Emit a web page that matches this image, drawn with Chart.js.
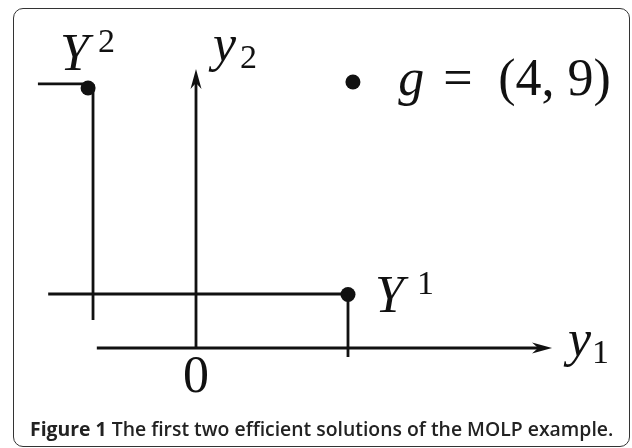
<!DOCTYPE html>
<html>
<head>
<meta charset="utf-8">
<script src="https://cdn.jsdelivr.net/npm/chart.js@4/dist/chart.umd.min.js"></script>
<style>
  body { margin: 0; background: #fff; }
  #wrap { position: relative; width: 632px; height: 448px; overflow: hidden; }
  #box { position: absolute; left: 0; top: 0; width: 632px; height: 448px; }
  #frame { position: absolute; left: 13px; top: 8px; width: 617px; height: 439px; box-sizing: border-box;
           border: 1.5px solid #333; border-radius: 10px; }
  #cap { position: absolute; left: 30px; top: 419px; font-family: "Open Sans"; font-size: 19.4px; line-height: 19px;
         font-weight: 600; color: #222; white-space: nowrap; }
  #cap b { font-weight: 700; }
</style>
</head>
<body>
<div id="wrap">
  <div id="box"><canvas id="myChart"></canvas></div>
  <div id="frame"></div>
  <div id="cap"><b>Figure 1</b> The first two efficient solutions of the MOLP example.</div>
</div>
<script>
// axes (y1 horizontal, y2 vertical) - line parts, arrow tips separate
const axisY1 = [[-2.61, 0], [9.0, 0]];
const axisY2 = [[0, 0], [0, 9.2]];
const arrowTips = [[9.37, 0, 'right'], [0, 9.66, 'up']];

// efficient solutions and ideal point
const pointY1 = [4, 1.85];
const pointY2 = [-2.84, 9.0];
const pointG = [4.13, 9.21];

// guide lines drawn through the solutions
const lineY1h = [[-3.89, 1.87], [4, 1.87]];
const lineY1v = [[4, 1.87], [4, -0.31]];
const lineY2h = [[-4.16, 9.14], [-2.84, 9.14]];
const lineY2v = [[-2.71, 9.14], [-2.71, 0.97]];

// text labels: anchor in data units, then pieces [text, style, dx]
const mathLabels = [
  { x: -3.58, y: 9.62, parts: [['Y', 'i', 0], ['2', 'sup', 38]] },
  { x: 0.45, y: 9.93, parts: [['y', 'i', 0], ['2', 'sub', 27]] },
  { x: 5.32, y: 8.76, parts: [['g', 'i', 0], ['=', 'r', 45], ['(4, 9)', 'r', 100]] },
  { x: 4.71, y: 1.25, parts: [['Y', 'i', 0], ['1', 'sup', 42]] },
  { x: 9.79, y: -0.28, parts: [['y', 'i', 0], ['1', 'sub', 24]] },
  { x: 0, y: -1.52, parts: [['0', 'r', 0]], center: true }
];

const ink = '#111';

function toPts(arr) {
  return arr.map(p => ({ x: p[0], y: p[1] }));
}

function segment(arr) {
  return {
    data: toPts(arr),
    showLine: true,
    borderColor: ink,
    borderWidth: 2.8,
    pointRadius: 0,
    borderCapStyle: 'butt'
  };
}

const fonts = {
  i: { font: 'italic 52px "Liberation Serif"', dy: 0 },
  r: { font: '52px "Liberation Serif"', dy: 0 },
  sup: { font: '34px "Liberation Serif"', dy: -18 },
  sub: { font: '34px "Liberation Serif"', dy: 7 }
};

const decorPlugin = {
  id: 'decor',
  afterDatasetsDraw(chart) {
    const ctx = chart.ctx;
    const xs = chart.scales.x, ys = chart.scales.y;
    ctx.save();
    ctx.fillStyle = ink;
    // arrow heads
    arrowTips.forEach(a => {
      const tx = xs.getPixelForValue(a[0]);
      const ty = ys.getPixelForValue(a[1]);
      const d = a[2] === 'right' ? [1, 0] : [0, -1];
      const n = [-d[1], d[0]];
      const L = 20, w = 5.5, notch = 14;
      ctx.beginPath();
      ctx.moveTo(tx, ty);
      ctx.lineTo(tx - d[0] * L + n[0] * w, ty - d[1] * L + n[1] * w);
      ctx.lineTo(tx - d[0] * notch, ty - d[1] * notch);
      ctx.lineTo(tx - d[0] * L - n[0] * w, ty - d[1] * L - n[1] * w);
      ctx.closePath();
      ctx.fill();
    });
    // labels
    ctx.textBaseline = 'alphabetic';
    mathLabels.forEach(lb => {
      let px = xs.getPixelForValue(lb.x);
      const py = ys.getPixelForValue(lb.y);
      if (lb.center) {
        ctx.font = fonts[lb.parts[0][1]].font;
        px -= ctx.measureText(lb.parts[0][0]).width / 2;
      }
      lb.parts.forEach(p => {
        const f = fonts[p[1]];
        ctx.font = f.font;
        ctx.fillText(p[0], px + p[2], py + f.dy);
      });
    });
    ctx.restore();
  }
};

const config = {
  type: 'scatter',
  data: {
    datasets: [
      segment(axisY1),
      segment(axisY2),
      segment(lineY1h),
      segment(lineY1v),
      segment(lineY2h),
      segment(lineY2v),
      {
        data: toPts([pointY1, pointY2, pointG]),
        pointRadius: 7.5,
        pointBackgroundColor: ink,
        pointBorderWidth: 0,
        showLine: false
      }
    ]
  },
  options: {
    animation: false,
    responsive: true,
    maintainAspectRatio: false,
    layout: { padding: 0, autoPadding: false },
    plugins: { legend: { display: false }, tooltip: { enabled: false } },
    scales: {
      x: { type: 'linear', min: -5.158, max: 11.474, display: false },
      y: { type: 'linear', min: -3.461, max: 12.046, display: false }
    }
  },
  plugins: [decorPlugin]
};

new Chart(document.getElementById('myChart'), config);
</script>
</body>
</html>
